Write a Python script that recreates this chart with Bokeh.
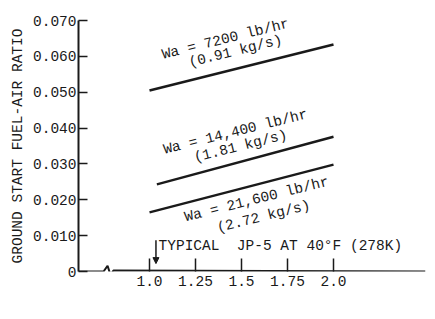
from bokeh.plotting import figure
from bokeh.models import FixedTicker, Arrow, NormalHead, Range1d, Label, PolyAnnotation
from bokeh.core.properties import value
from bokeh.embed import file_html
from bokeh.resources import INLINE

# ---- data ----
vi_7200 = [1.0, 2.0]
far_7200 = [0.0505, 0.0633]
vi_14400 = [1.04, 2.0]
far_14400 = [0.0243, 0.0376]
vi_21600 = [1.0, 2.0]
far_21600 = [0.0165, 0.0298]

x_ticks = [1.0, 1.25, 1.5, 1.75, 2.0]
x_tick_labels = ["1.0", "1.25", "1.5", "1.75", "2.0"]
y_ticks = [0.0, 0.01, 0.02, 0.03, 0.04, 0.05, 0.06, 0.07]
y_tick_labels = ["0", "0.010", "0.020", "0.030", "0.040", "0.050", "0.060", "0.070"]

label_text = ["Wa = 7200 lb/hr", "(0.91 kg/s)",
              "Wa = 14,400 lb/hr", "(1.81 kg/s)",
              "Wa = 21,600 lb/hr", "(2.72 kg/s)"]
label_x = [1.413, 1.467, 1.467, 1.495, 1.582, 1.620]
label_y = [0.0648, 0.0614, 0.0389, 0.0349, 0.0201, 0.0153]

# x-axis line with break
axis_x = [0.614, 0.75, 0.772, 0.788, 0.804, 2.5]
axis_y = [0.0, 0.0, 0.0016, -0.0010, 0.0003, 0.0]

typical_vi = 1.035
typical_text = "TYPICAL\u00a0 JP-5 AT 40°F (278K)"
typical_text_x = 1.049
typical_text_y = 0.00725
arrow_y = [0.0087, 0.0022]

FONT = "Liberation Mono"
FS = "14.5px"
INK = "#1a1a1a"

p = figure(width=435, height=319, output_backend="svg", toolbar_location=None,
           x_range=Range1d(0.614, 2.5), y_range=Range1d(0.0, 0.070),
           min_border_left=78, min_border_right=10, min_border_top=20, min_border_bottom=48)
p.outline_line_color = None
p.xgrid.visible = False
p.ygrid.visible = False
p.background_fill_color = "white"
p.border_fill_color = "white"

# axes
p.xaxis.ticker = FixedTicker(ticks=x_ticks)
p.xaxis.major_label_overrides = {t: s for t, s in zip(x_ticks, x_tick_labels)}
p.xaxis.axis_line_color = None
p.xaxis.major_tick_in = 13
p.xaxis.major_tick_out = 0
p.xaxis.major_tick_line_width = 1.5
p.xaxis.major_tick_line_color = INK
p.xaxis.minor_tick_line_color = None
p.xaxis.major_label_standoff = 4
p.xaxis.major_label_text_font = FONT
p.xaxis.major_label_text_font_size = FS
p.xaxis.major_label_text_color = INK

p.yaxis.ticker = FixedTicker(ticks=y_ticks)
p.yaxis.major_label_overrides = {t: s for t, s in zip(y_ticks, y_tick_labels)}
p.yaxis.axis_line_width = 2
p.yaxis.axis_line_color = INK
p.yaxis.major_tick_in = 9
p.yaxis.major_tick_out = 0
p.yaxis.major_tick_line_width = 1.5
p.yaxis.major_tick_line_color = INK
p.yaxis.minor_tick_line_color = None
p.yaxis.major_label_standoff = 2
p.yaxis.major_label_text_font = FONT
p.yaxis.major_label_text_font_size = FS
p.yaxis.major_label_text_color = INK
p.yaxis.axis_label = "GROUND START FUEL-AIR RATIO"
p.yaxis.axis_label_text_font = FONT
p.yaxis.axis_label_text_font_size = FS
p.yaxis.axis_label_text_font_style = "normal"
p.yaxis.axis_label_text_color = INK
p.yaxis.axis_label_standoff = 4

# x axis line with break (retraced path so it is drawn as an open line, unclipped)
p.add_layout(PolyAnnotation(xs=axis_x + axis_x[::-1], ys=axis_y + axis_y[::-1],
                            fill_color=None, fill_alpha=0,
                            line_color=INK, line_alpha=1.0, line_width=2))

# data lines
for xs, ys in [(vi_7200, far_7200), (vi_14400, far_14400), (vi_21600, far_21600)]:
    p.line(xs, ys, line_color=INK, line_width=2.5)

# curve labels
p.text(x=label_x, y=label_y, text=label_text, angle=0.245,
       text_align="center", text_baseline="middle",
       text_font=value(FONT), text_font_size=FS, text_color=INK)

# typical marker
p.add_layout(Arrow(end=NormalHead(size=6, fill_color=INK, line_color=INK),
                   x_start=typical_vi, y_start=arrow_y[0],
                   x_end=typical_vi, y_end=arrow_y[1],
                   line_width=1.5, line_color=INK))
p.text(x=[typical_text_x], y=[typical_text_y], text=[typical_text],
       text_align="left", text_baseline="middle",
       text_font=value(FONT), text_font_size=FS, text_color=INK)

# x axis title
p.add_layout(Label(x=1.5, y=-36, y_units="screen", text="VAPORIZATION INDEX",
                   text_align="center", text_baseline="middle",
                   text_font=FONT, text_font_size=FS, text_color=INK))

open("out.html", "w").write(file_html(p, INLINE))
